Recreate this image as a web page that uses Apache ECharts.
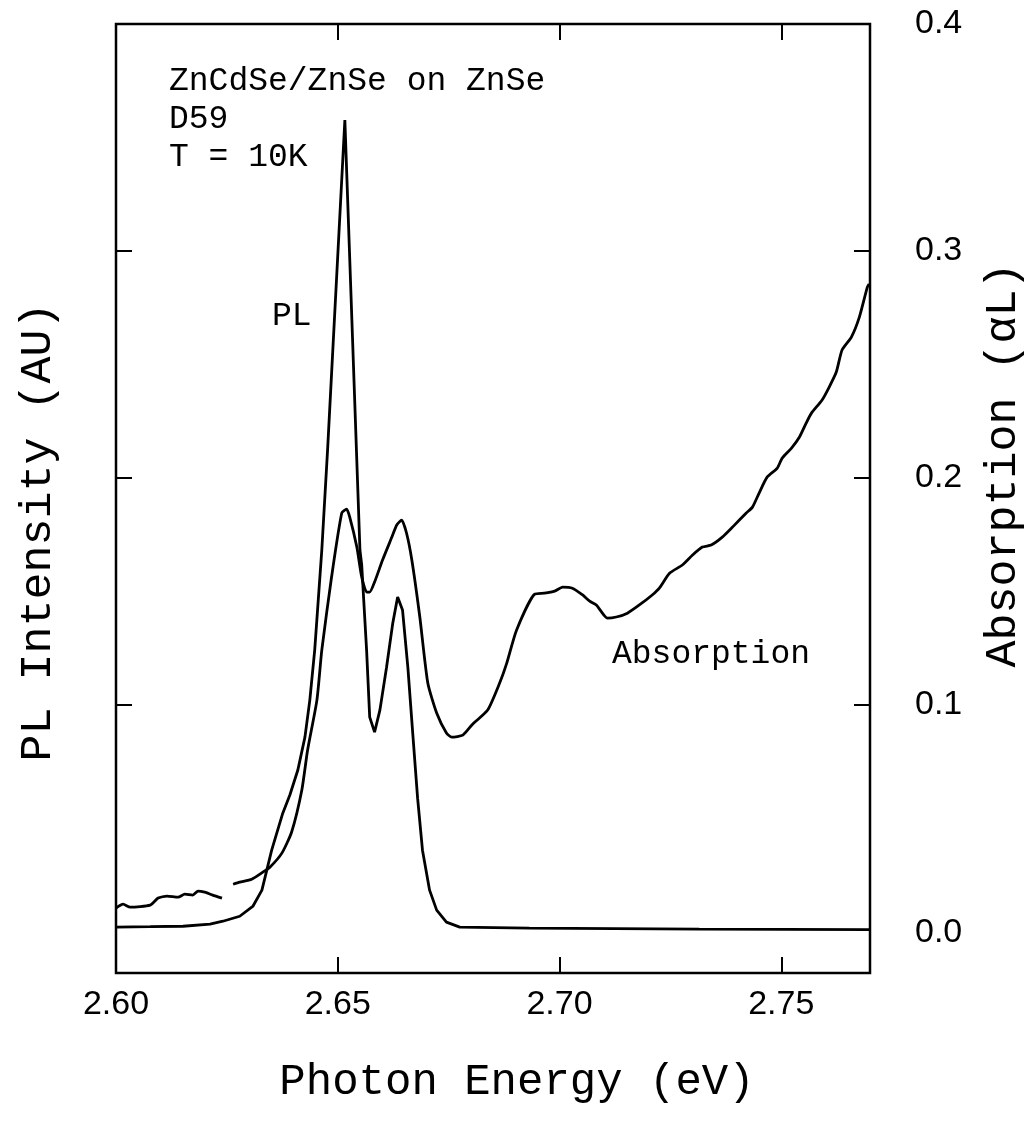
<!DOCTYPE html>
<html>
<head>
<meta charset="utf-8">
<script src="https://cdn.jsdelivr.net/npm/echarts@6/dist/echarts.min.js"></script>
<style>
html,body{margin:0;padding:0;background:#fff;}
#chart{width:1031px;height:1141px;}
</style>
</head>
<body>
<div id="chart"></div>
<script>
// ---- data ----
const plEnergy = [2.6000,2.6077,2.6151,2.6212,2.6241,2.6279,2.6309,2.6329,2.6340,2.6351,2.6376,2.6392,2.6410,2.6426,2.6437,2.6448,2.6464,2.6477,2.6516,2.6550,2.6554,2.6565,2.6572,2.6583,2.6595,2.6610,2.6624,2.6635,2.6646,2.6658,2.6669,2.6680,2.6691,2.6707,2.6723,2.6745,2.6775,2.6932,2.7315,2.7698];
const plValues = [0.0022,0.0024,0.0026,0.0035,0.0048,0.0070,0.0115,0.0185,0.0273,0.0361,0.0524,0.0604,0.0714,0.0859,0.1022,0.1242,0.1683,0.2123,0.3577,0.1683,0.1617,0.1242,0.0947,0.0881,0.0978,0.1167,0.1361,0.1476,0.1419,0.1167,0.0877,0.0590,0.0361,0.0185,0.0097,0.0044,0.0022,0.0018,0.0013,0.0011];

const absEnergy = [2.6000,2.6016,2.6032,2.6077,2.6095,2.6115,2.6140,2.6155,2.6173,2.6185,2.6200,2.6218,2.6239,2.6252,2.6264,2.6279,2.6306,2.6331,2.6347,2.6374,2.6396,2.6419,2.6432,2.6453,2.6464,2.6486,2.6509,2.6520,2.6527,2.6543,2.6554,2.6565,2.6572,2.6583,2.6601,2.6622,2.6633,2.6644,2.6655,2.6667,2.6685,2.6703,2.6723,2.6745,2.6757,2.6782,2.6804,2.6838,2.6865,2.6881,2.6903,2.6944,2.6966,2.6989,2.7007,2.7029,2.7052,2.7068,2.7083,2.7108,2.7128,2.7153,2.7180,2.7209,2.7225,2.7248,2.7277,2.7300,2.7322,2.7342,2.7367,2.7390,2.7421,2.7435,2.7450,2.7468,2.7491,2.7502,2.7523,2.7541,2.7556,2.7568,2.7592,2.7608,2.7624,2.7637,2.7658,2.7676,2.7694,2.7698];
const absValues = [0.0106,0.0123,0.0110,0.0119,0.0150,0.0159,0.0154,0.0167,0.0163,0.0181,0.0176,0.0163,0.0150,null,0.0211,0.0220,0.0233,0.0264,0.0286,0.0348,0.0441,0.0626,0.0802,0.1022,0.1242,0.1564,0.1846,0.1863,0.1828,0.1696,0.1564,0.1498,0.1498,0.1542,0.1639,0.1740,0.1793,0.1815,0.1758,0.1639,0.1388,0.1097,0.0965,0.0877,0.0859,0.0868,0.0916,0.0978,0.1097,0.1185,0.1330,0.1489,0.1493,0.1502,0.1520,0.1515,0.1485,0.1458,0.1441,0.1383,0.1388,0.1405,0.1441,0.1485,0.1515,0.1581,0.1617,0.1661,0.1696,0.1705,0.1740,0.1784,0.1846,0.1872,0.1934,0.2004,0.2044,0.2088,0.2132,0.2181,0.2242,0.2286,0.2344,0.2401,0.2467,0.2564,0.2621,0.2709,0.2841,0.2855];

const xTickLabels = [2.60, 2.65, 2.70, 2.75];
const xTickMarks = [2.65, 2.70, 2.75];
const yTickLabels = [0.0, 0.1, 0.2, 0.3, 0.4];
const yTickMarks = [0.1, 0.2, 0.3];

const annotations = ['ZnCdSe/ZnSe on ZnSe', 'D59', 'T = 10K'];
const plLabel = 'PL';
const absLabel = 'Absorption';
const xTitle = 'Photon Energy (eV)';
const yLeftTitle = 'PL Intensity (AU)';
const yRightTitle = 'Absorption (αL)';

// ---- chart ----
const X_MIN = 2.60, X_MAX = 2.77, Y_MIN = -0.018, Y_MAX = 0.40;
const sans = 'Liberation Sans';
const black = '#000';

const plData = plEnergy.map((e, i) => [e, plValues[i]]);
const absData = absEnergy.map((e, i) => [e, absValues[i]]);

const chart = echarts.init(document.getElementById('chart'), null, {renderer: 'canvas'});

const innerTicks = (vals) => ({show: true, inside: true, length: 16, lineStyle: {color: black, width: 2}, customValues: vals});

chart.setOption({
  backgroundColor: '#fff',
  animation: false,
  grid: {left: 116, right: 161, top: 24, bottom: 168, show: true, borderColor: black, borderWidth: 2.5, backgroundColor: 'transparent'},
  xAxis: [
    {
      type: 'value', min: X_MIN, max: X_MAX, position: 'bottom',
      axisLine: {show: false, onZero: false},
      axisTick: innerTicks(xTickMarks),
      axisLabel: {customValues: xTickLabels, formatter: v => v.toFixed(2), fontFamily: sans, fontSize: 34, color: black, margin: 15},
      splitLine: {show: false}
    },
    {
      type: 'value', min: X_MIN, max: X_MAX, position: 'top',
      axisLine: {show: false, onZero: false},
      axisTick: innerTicks(xTickMarks),
      axisLabel: {show: false},
      splitLine: {show: false}
    }
  ],
  yAxis: [
    {
      type: 'value', min: Y_MIN, max: Y_MAX, position: 'left',
      axisLine: {show: false, onZero: false},
      axisTick: innerTicks(yTickMarks),
      axisLabel: {show: false},
      splitLine: {show: false}
    },
    {
      type: 'value', min: Y_MIN, max: Y_MAX, position: 'right',
      axisLine: {show: false, onZero: false},
      axisTick: innerTicks(yTickMarks),
      axisLabel: {customValues: yTickLabels, formatter: v => v.toFixed(1), fontFamily: sans, fontSize: 34, color: black, margin: 45},
      splitLine: {show: false}
    }
  ],
  series: [
    {
      name: 'PL', type: 'line', xAxisIndex: 0, yAxisIndex: 0, data: plData,
      showSymbol: false, symbol: 'none', smooth: false,
      lineStyle: {color: black, width: 2.8}
    },
    {
      name: 'Absorption', type: 'line', xAxisIndex: 0, yAxisIndex: 1, data: absData,
      showSymbol: false, symbol: 'none', smooth: 0.2, connectNulls: false,
      lineStyle: {color: black, width: 2.8}
    }
  ],
  graphic: [
    {type: 'text', left: 169, top: 62, style: {text: annotations.join('\n'), font: '33px "Liberation Mono"', fill: black, lineHeight: 38}},
    {type: 'text', left: 272, top: 300, style: {text: plLabel, font: '33px "Liberation Mono"', fill: black}},
    {type: 'text', left: 612, top: 638, style: {text: absLabel, font: '33px "Liberation Mono"', fill: black}},
    {type: 'text', x: 517, y: 1082, style: {text: xTitle, font: '44px "Liberation Mono"', fill: black, align: 'center', verticalAlign: 'middle'}},
    {type: 'text', x: 38, y: 532, rotation: Math.PI / 2, style: {text: yLeftTitle, font: '45px "Liberation Mono"', fill: black, align: 'center', verticalAlign: 'middle'}},
    {type: 'text', x: 1003, y: 465, rotation: Math.PI / 2, style: {text: yRightTitle, font: '45px "Liberation Mono"', fill: black, align: 'center', verticalAlign: 'middle'}}
  ]
});
</script>
</body>
</html>
